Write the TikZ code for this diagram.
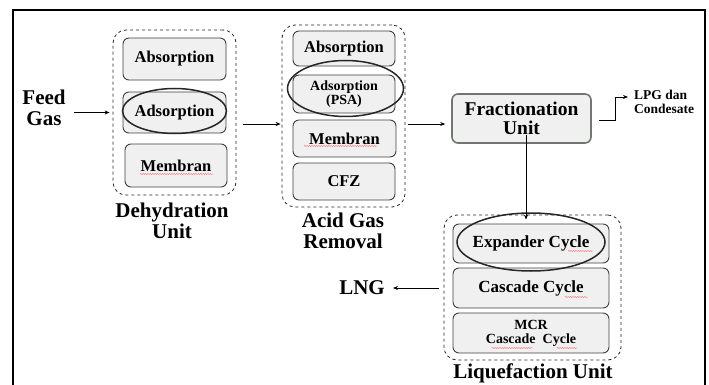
\documentclass[tikz,border=0pt]{standalone}
\usepackage{fontspec}
\setmainfont{Liberation Serif}
\usetikzlibrary{arrows.meta,decorations.pathmorphing}
\definecolor{fracborder}{HTML}{6F786F}
\tikzset{
  unitbox/.style={draw=black!75, fill=black!6, rounded corners=6pt, line width=0.9pt, inner sep=0pt, align=center},
  grpbox/.style={draw=black!85, dashed, rounded corners=13pt, line width=0.8pt, inner sep=0pt},
  mark ellipse/.style={draw=black!85, line width=1.5pt},
  arr/.style={-{Stealth[length=5pt,width=4pt]}, line width=0.8pt, black},
  lbl/.style={font=\bfseries\fontsize{21}{22}\selectfont, align=center, inner sep=0pt},
  boxtxt/.style={font=\bfseries\fontsize{16.5}{18}\selectfont},
  spell/.style={red!70, line width=0.35pt, decorate, decoration={snake, segment length=2.4pt, amplitude=0.5pt}}
}
\begin{document}
\begin{tikzpicture}[x=1pt,y=-1pt]
\useasboundingbox (0,0) rectangle (709,385);
\clip (0,0) rectangle (709,385);
\fill[white] (0,0) rectangle (709,385);
% outer frame
\draw[line width=1.6pt] (13,10) rectangle (705,400);

% Feed gas
\node[lbl] (feed) at (44,108) {Feed\\[-1pt]Gas};

% Dehydration unit
\node[grpbox, minimum width=123pt, minimum height=165pt] (dgrp) at (174.5,112.5) {};
\node[unitbox, boxtxt, minimum width=103pt, minimum height=42pt] (dA) at (174.5,59) {Absorption};
\node[unitbox, boxtxt, minimum width=103pt, minimum height=41pt] (dB) at (174.5,112.5) {Adsorption};
\node[unitbox, boxtxt, minimum width=102pt, minimum height=43pt] (dC) at (176,165.5) {Membran};
\draw[mark ellipse] (174.5,111) ellipse [x radius=52, y radius=22.5];
\node[lbl] (dlbl) at (172,220.5) {Dehydration\\[-1pt]Unit};

% Acid gas removal
\node[grpbox, minimum width=123pt, minimum height=182pt] (agrp) at (343.5,116) {};
\node[unitbox, boxtxt, minimum width=102pt, minimum height=35pt] (aA) at (344,48.5) {Absorption};
\node[unitbox, font=\bfseries\fontsize{14}{14.5}\selectfont, minimum width=102pt, minimum height=38pt] (aB) at (344,94) {Adsorption\\(PSA)};
\node[unitbox, boxtxt, minimum width=103pt, minimum height=37pt] (aC) at (344.5,138.5) {Membran};
\node[unitbox, boxtxt, minimum width=102pt, minimum height=37pt] (aD) at (344,181.5) {CFZ};
\draw[mark ellipse] (345.5,88.5) ellipse [x radius=58, y radius=28];
\node[lbl] (albl) at (343,230.5) {Acid Gas\\[-1pt]Removal};

% Fractionation
\node[unitbox, draw=fracborder, line width=1.6pt, font=\bfseries\fontsize{19.5}{19.5}\selectfont, minimum width=139pt, minimum height=49pt] (frac) at (521.5,118.5) {Fractionation\\Unit};
\node[font=\bfseries\fontsize{13.5}{14}\selectfont, align=left, anchor=west, inner sep=0pt] (lpg) at (634,102) {LPG dan\\Condesate};

% Liquefaction unit
\node[grpbox, minimum width=177pt, minimum height=145pt] (lgrp) at (532.5,287.5) {};
\node[unitbox, font=\bfseries\fontsize{17}{18}\selectfont, minimum width=156pt, minimum height=39pt] (lA) at (531,243.5) {Expander Cycle};
\node[unitbox, font=\bfseries\fontsize{17}{18}\selectfont, minimum width=156pt, minimum height=40pt] (lB) at (531,288) {Cascade Cycle};
\node[unitbox, font=\bfseries\fontsize{14}{14}\selectfont, minimum width=156pt, minimum height=40pt] (lC) at (531,333) {MCR\\Cascade\ \ Cycle};
\draw[mark ellipse] (531,242) ellipse [x radius=74, y radius=29];
\node[lbl] (llbl) at (533,373) {Liquefaction Unit};
\node[lbl] (lng) at (362,288) {LNG};

% connectors
\draw[arr] ([xshift=8pt]feed.east |- dB) -- ([xshift=-3pt]dgrp.west |- dB);
\draw[arr] ([xshift=7pt]dgrp.east |- 0,124) -- ([xshift=-1pt]agrp.west |- 0,124);
\draw[arr] ([xshift=3pt]agrp.east |- 0,124) -- ([xshift=-6pt]frac.west |- 0,124);
\draw[arr] ([xshift=7pt]frac.east |- 0,120) -| (615,97) -- ([xshift=-6pt]lpg.west |- 0,97);
\draw[arr] ([yshift=9pt]frac.south -| 526,0) -- ([yshift=-5pt]lgrp.north -| 526,0);
\draw[arr] ([xshift=-5pt]lgrp.west |- lB) -- ([xshift=8pt]lng.east |- lB);

% spell-check squiggles
\draw[spell] (140,174) -- (213,174);
\draw[spell] (304,146) -- (377,146);
\draw[spell] (568,251) -- (593,251);
\draw[spell] (565,297) -- (588,297);
\draw[spell] (492,348) -- (533,348);
\draw[spell] (557,348) -- (577,348);
\end{tikzpicture}
\end{document}
